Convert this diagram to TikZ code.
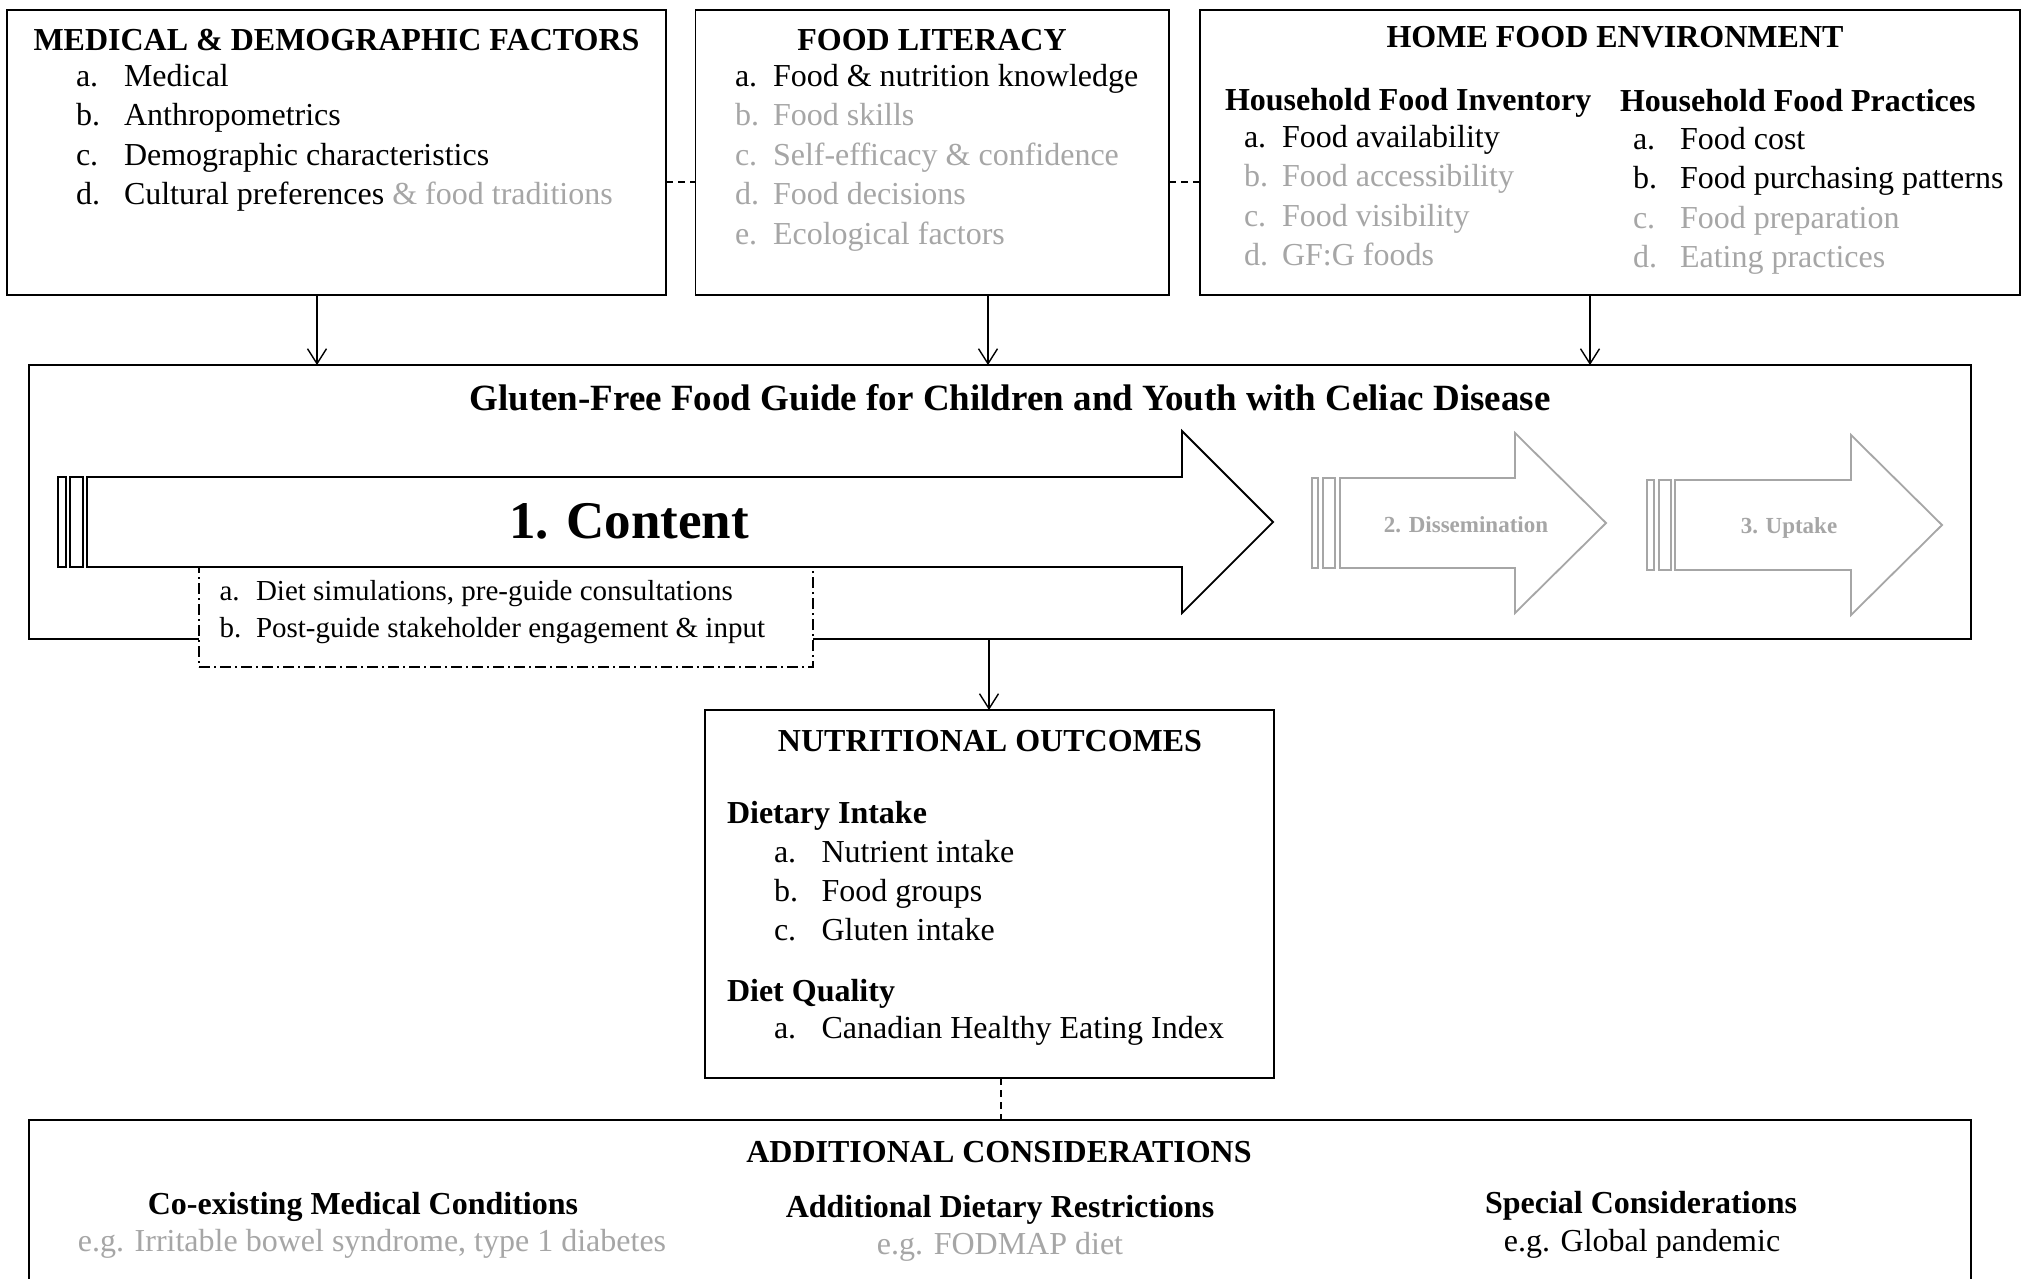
\documentclass[tikz,border=0pt]{standalone}
\usepackage{fontspec}
\setmainfont{Liberation Serif}
\usetikzlibrary{arrows.meta}
\definecolor{lg}{RGB}{166,166,166}
\begin{document}
\begin{tikzpicture}[x=1pt,y=-1pt,
  box/.style={draw, line width=1.4pt, inner sep=0pt, outer sep=0pt, fill=white},
  ddbox/.style={draw, line width=1.6pt, inner sep=0pt, outer sep=0pt, fill=white,
     dash pattern=on 11pt off 4pt on 2pt off 4pt},
  bigarrow/.style={draw, line width=1.8pt, fill=white, line join=miter},
  greyarrow/.style={draw=lg, line width=1.8pt, fill=white, line join=miter},
  lbl/.style={inner sep=0pt, outer sep=0pt, anchor=base west, font=\fontsize{32}{38}\selectfont},
  hd/.style={inner sep=0pt, outer sep=0pt, anchor=base, font=\fontsize{32}{38}\selectfont\bfseries},
  subhd/.style={inner sep=0pt, outer sep=0pt, anchor=base west, font=\fontsize{32}{38}\selectfont\bfseries},
  cen/.style={inner sep=0pt, outer sep=0pt, anchor=base, font=\fontsize{32}{38}\selectfont},
  small/.style={inner sep=0pt, outer sep=0pt, anchor=base west, font=\fontsize{29}{34}\selectfont},
  gr/.style={text=lg},
  conn/.style={line width=1.4pt, -{Straight Barb[length=15pt,width=19pt,line width=1.4pt]}},
  dconn/.style={line width=1.4pt, dash pattern=on 7pt off 5pt}
]
\useasboundingbox (0,0) rectangle (2023,1278);
\clip (0,0) rectangle (2023,1278);
\fill[white] (0,0) rectangle (2023,1278);

% ---------- top boxes ----------
\node[box, minimum width=659pt, minimum height=285pt] (med) at (336.5,152.5) {};
\node[box, minimum width=473.5pt, minimum height=285pt] (fl) at (932.25,152.5) {};
\node[box, minimum width=820pt, minimum height=285pt] (hfe) at (1610,152.5) {};

% medical & demographic
\node[hd] (medt) at (336.5,50) {MEDICAL \& DEMOGRAPHIC FACTORS};
\node[lbl] (m1l) at (76,86) {a.};   \node[lbl] (m1) at (124,86) {Medical};
\node[lbl] (m2l) at (76,125.5) {b.}; \node[lbl] (m2) at (124,125.5) {Anthropometrics};
\node[lbl] (m3l) at (76,165) {c.};  \node[lbl] (m3) at (124,165) {Demographic characteristics};
\node[lbl] (m4l) at (76,204.5) {d.}; \node[lbl] (m4) at (124,204.5) {Cultural preferences \textcolor{lg}{\& food traditions}};

% food literacy
\node[hd] (flt) at (932,50) {FOOD LITERACY};
\node[lbl] (f1l) at (735,86) {a.};        \node[lbl] (f1) at (773,86) {Food \& nutrition knowledge};
\node[lbl,gr] (f2l) at (735,125.5) {b.};  \node[lbl,gr] (f2) at (773,125.5) {Food skills};
\node[lbl,gr] (f3l) at (735,165) {c.};    \node[lbl,gr] (f3) at (773,165) {Self-efficacy \& confidence};
\node[lbl,gr] (f4l) at (735,204.5) {d.};  \node[lbl,gr] (f4) at (773,204.5) {Food decisions};
\node[lbl,gr] (f5l) at (735,244) {e.};    \node[lbl,gr] (f5) at (773,244) {Ecological factors};

% home food environment
\node[hd] (hfet) at (1615,47) {HOME FOOD ENVIRONMENT};
\node[subhd] (hinv) at (1225,110) {Household Food Inventory};
\node[lbl] (h1l) at (1244,147) {a.};       \node[lbl] (h1) at (1282,147) {Food availability};
\node[lbl,gr] (h2l) at (1244,186.5) {b.};  \node[lbl,gr] (h2) at (1282,186.5) {Food accessibility};
\node[lbl,gr] (h3l) at (1244,226) {c.};    \node[lbl,gr] (h3) at (1282,226) {Food visibility};
\node[lbl,gr] (h4l) at (1244,265.5) {d.};  \node[lbl,gr] (h4) at (1282,265.5) {GF:G foods};
\node[subhd] (hprac) at (1620,111) {Household Food Practices};
\node[lbl] (p1l) at (1633,149) {a.};       \node[lbl] (p1) at (1680,149) {Food cost};
\node[lbl] (p2l) at (1633,188.5) {b.};     \node[lbl] (p2) at (1680,188.5) {Food purchasing patterns};
\node[lbl,gr] (p3l) at (1633,228) {c.};    \node[lbl,gr] (p3) at (1680,228) {Food preparation};
\node[lbl,gr] (p4l) at (1633,267.5) {d.};  \node[lbl,gr] (p4) at (1680,267.5) {Eating practices};

% ---------- big guide box ----------
\node[box, minimum width=1942pt, minimum height=274pt] (big) at (1000,502) {};
\node[inner sep=0pt, anchor=base, font=\fontsize{37}{44}\selectfont\bfseries] (bigt) at (1010,410)
  {Gluten-Free Food Guide for Children and Youth with Celiac Disease};

% dash-dot box under content arrow
\node[ddbox, minimum width=614pt, minimum height=100pt] (dd) at (506,617) {};
\node[small] (d1l) at (219.5,600) {a.}; \node[small] (d1) at (256,600) {Diet simulations, pre-guide consultations};
\node[small] (d2l) at (219.5,637) {b.}; \node[small] (d2) at (256,637) {Post-guide stakeholder engagement \& input};

% content arrow
\draw[bigarrow] (58,477) rectangle (66,567);
\draw[bigarrow] (70,477) rectangle (83,567);
\draw[bigarrow] (87,477) -- (1182,477) -- (1182,431) -- (1273,522) -- (1182,613) -- (1182,567) -- (87,567) -- cycle;
\node[inner sep=0pt, anchor=base, font=\fontsize{53}{60}\selectfont\bfseries] (content) at (629,538) {1. Content};

% dissemination arrow
\draw[greyarrow] (1312,478) rectangle (1318,568);
\draw[greyarrow] (1323,478) rectangle (1335,568);
\draw[greyarrow] (1340,478) -- (1515,478) -- (1515,433) -- (1606,523) -- (1515,613) -- (1515,568) -- (1340,568) -- cycle;
\node[inner sep=0pt, anchor=base, text=lg, font=\fontsize{23}{28}\selectfont\bfseries] (diss) at (1466,532.5) {2. Dissemination};

% uptake arrow
\draw[greyarrow] (1647,480) rectangle (1654,570);
\draw[greyarrow] (1659,480) rectangle (1671,570);
\draw[greyarrow] (1675,480) -- (1851,480) -- (1851,435) -- (1942,525) -- (1851,615) -- (1851,570) -- (1675,570) -- cycle;
\node[inner sep=0pt, anchor=base, text=lg, font=\fontsize{23}{28}\selectfont\bfseries] (upt) at (1789,533) {3. Uptake};

% ---------- nutritional outcomes ----------
\node[box, minimum width=569pt, minimum height=368pt] (no) at (989.5,894) {};
\node[hd] (not) at (990,751) {NUTRITIONAL OUTCOMES};
\node[subhd] (di) at (727,823) {Dietary Intake};
\node[lbl] (n1l) at (774,862) {a.}; \node[lbl] (n1) at (821.5,862) {Nutrient intake};
\node[lbl] (n2l) at (774,901) {b.}; \node[lbl] (n2) at (821.5,901) {Food groups};
\node[lbl] (n3l) at (774,940) {c.}; \node[lbl] (n3) at (821.5,940) {Gluten intake};
\node[subhd] (dq) at (727,1001) {Diet Quality};
\node[lbl] (q1l) at (774,1038) {a.}; \node[lbl] (q1) at (821.5,1038) {Canadian Healthy Eating Index};

% ---------- additional considerations ----------
\node[box, minimum width=1942pt, minimum height=220pt] (add) at (1000,1230) {};
\node[hd] (addt) at (999,1162) {ADDITIONAL CONSIDERATIONS};
\node[hd] (c1) at (363,1214) {Co-existing Medical Conditions};
\node[cen,gr] (c1e) at (372,1251) {e.g. Irritable bowel syndrome, type 1 diabetes};
\node[hd] (c2) at (1000,1217) {Additional Dietary Restrictions};
\node[cen,gr] (c2e) at (1000,1254) {e.g. FODMAP diet};
\node[hd] (c3) at (1641,1213) {Special Considerations};
\node[cen] (c3e) at (1642,1251) {e.g. Global pandemic};

% ---------- connectors ----------
\coordinate (ax1) at (317,0);
\coordinate (ax2) at (988,0);
\coordinate (ax3) at (1590,0);
\coordinate (ax4) at (989,0);
\coordinate (dx) at (1001,0);
\draw[conn] (ax1 |- med.south) -- (ax1 |- big.north);
\draw[conn] (ax2 |- fl.south) -- (ax2 |- big.north);
\draw[conn] (ax3 |- hfe.south) -- (ax3 |- big.north);
\draw[conn] (ax4 |- big.south) -- (ax4 |- no.north);
\draw[dconn] (dx |- no.south) -- (dx |- add.north);
\draw[dconn] ([yshift=-29.5pt]med.east) -- ([yshift=-29.5pt]fl.west);
\draw[dconn] ([yshift=-29.5pt]fl.east) -- ([yshift=-29.5pt]hfe.west);
\end{tikzpicture}
\end{document}
